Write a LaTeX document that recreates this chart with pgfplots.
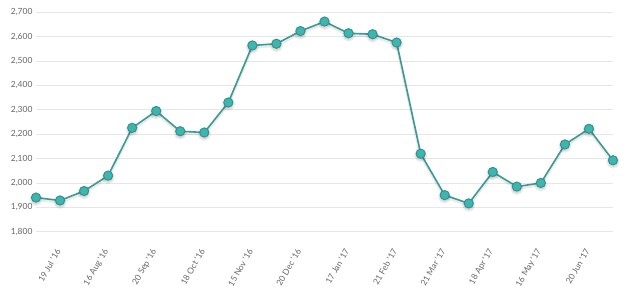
\documentclass[border=0pt]{standalone}
\usepackage{fontspec}
\setmainfont{Lato}
\usepackage{pgfplots}
\pgfplotsset{compat=1.18}
\definecolor{tealline}{HTML}{3A9A97}
\definecolor{tealfill}{HTML}{40B4AE}
\definecolor{tealedge}{HTML}{2F9490}
\definecolor{gridc}{HTML}{E6E6E6}
\definecolor{txt}{HTML}{666666}
\begin{document}
\begin{tikzpicture}
\useasboundingbox (-36bp,-65.3bp) rectangle (590bp,231.7bp);
\begin{axis}[
  scale only axis,
  width=577bp, height=219.4bp,
  xmin=0, xmax=24, ymin=1800, ymax=2700,
  axis line style={draw=none},
  major tick length=0,
  ymajorgrids, grid style={gridc, line width=0.8bp},
  ytick={1800,1900,...,2700},
  yticklabel style={font=\fontsize{8.5}{10}\selectfont, text=txt},
  /pgf/number format/assume math mode=true,
  /pgf/number format/1000 sep={,},
  xtick={1,3,...,23},
  xticklabels={19 Jul '16,16 Aug '16,20 Sep '16,18 Oct '16,15 Nov '16,20 Dec '16,17 Jan '17,21 Feb '17,21 Mar '17,18 Apr '17,16 May '17,20 Jun '17},
  xticklabel style={font=\fontsize{8.5}{10}\selectfont, text=txt, rotate=60, anchor=east},
  xticklabel shift=15bp,
  clip=false,
]
\addplot[draw=black, draw opacity=0.08, line width=3bp, yshift=-1.8bp,
  mark=*, mark size=5bp, mark options={fill=black, fill opacity=0.08, draw=none}]
  coordinates {(0,1940)(1,1928)(2,1967)(3,2030)(4,2226)(5,2295)(6,2212)(7,2207)(8,2330)(9,2564)(10,2571)(11,2623)(12,2662)(13,2614)(14,2610)(15,2576)(16,2120)(17,1950)(18,1916)(19,2045)(20,1985)(21,2000)(22,2158)(23,2222)(24,2093)};
\addplot[tealline, line width=1.6bp, mark=*, mark size=4.6bp,
  mark options={fill=tealfill, draw=tealedge, line width=1bp}]
  coordinates {(0,1940)(1,1928)(2,1967)(3,2030)(4,2226)(5,2295)(6,2212)(7,2207)(8,2330)(9,2564)(10,2571)(11,2623)(12,2662)(13,2614)(14,2610)(15,2576)(16,2120)(17,1950)(18,1916)(19,2045)(20,1985)(21,2000)(22,2158)(23,2222)(24,2093)};
\end{axis}
\end{tikzpicture}
\end{document}
